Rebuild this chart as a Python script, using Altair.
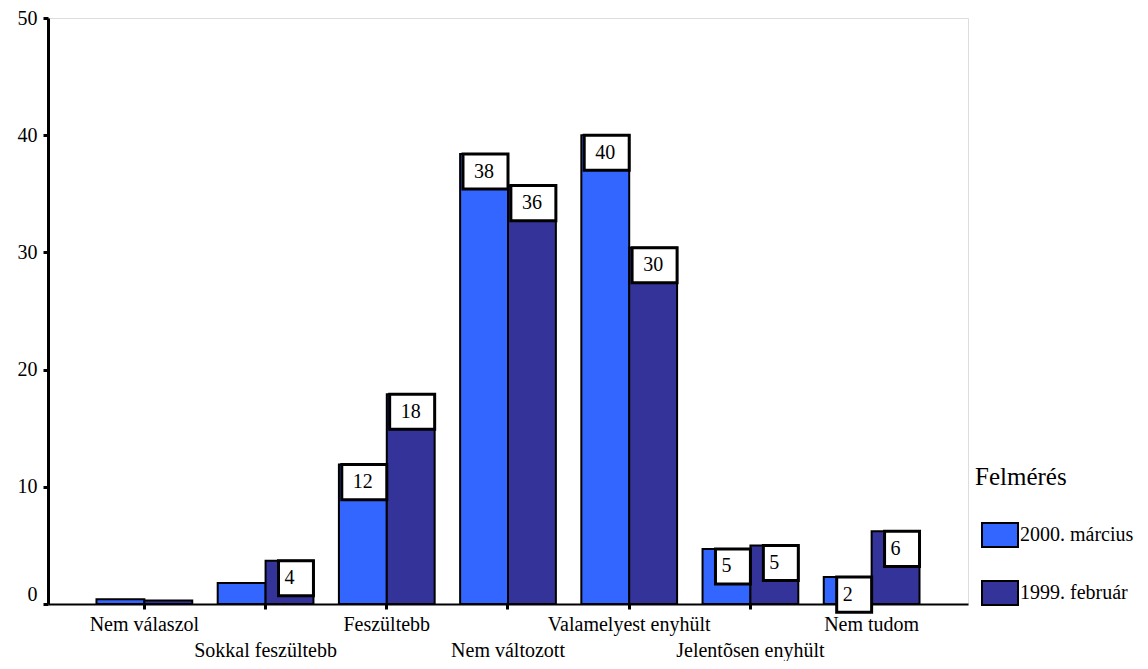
import json
import altair as alt
import pandas as pd

categories = ["Nem válaszol", "Sokkal feszültebb", "Feszültebb", "Nem változott",
              "Valamelyest enyhült", "Jelentõsen enyhült", "Nem tudom"]
series_names = ["2000. március", "1999. február"]
values_2000 = [0.4, 1.8, 11.9, 38.4, 40.0, 4.7, 2.3]
values_1999 = [0.3, 3.7, 17.9, 35.7, 30.4, 5.0, 6.2]
labels_2000 = ["", "", "12", "38", "40", "5", "2"]
labels_1999 = ["", "4", "18", "36", "30", "5", "6"]
colors = ["#3366ff", "#333399"]
y_ticks = [0, 10, 20, 30, 40, 50]

rows = []
for s, vals, labs in [(series_names[0], values_2000, labels_2000),
                      (series_names[1], values_1999, labels_1999)]:
    for c, v, l in zip(categories, vals, labs):
        rows.append({"cat": c, "series": s, "value": v, "label": l})
df = pd.DataFrame(rows)

FONT = "Liberation Serif"
lower = categories[1::2]
label_expr = ("indexof(" + json.dumps(lower, ensure_ascii=False) +
              ", datum.label) >= 0 ? ['', datum.label] : datum.label")

x = alt.X("cat:N", sort=categories,
          scale=alt.Scale(domain=categories, paddingInner=0.21, paddingOuter=0.4),
          axis=alt.Axis(title=None, labelAngle=0, labelExpr=label_expr, labelLineHeight=26,
                        labelFont=FONT, labelFontSize=20, labelColor="black", labelPadding=5,
                        labelOverlap=False, labelBaseline="top", tickSize=5, tickWidth=3,
                        tickColor="black", domainColor="black", domainWidth=2, grid=False))
xoff = alt.XOffset("series:N", scale=alt.Scale(domain=series_names))
y = alt.Y("value:Q", scale=alt.Scale(domain=[0, 50], nice=False),
          axis=alt.Axis(values=y_ticks, title=None, grid=False, labelFont=FONT, labelFontSize=20,
                        labelColor="black", labelPadding=6, tickSize=5, tickWidth=3,
                        tickColor="black", domainColor="black", domainWidth=3,
                        labelBaseline={"condition": {"test": "datum.value === 0", "value": "bottom"},
                                       "value": "middle"}))
color = alt.Color("series:N", scale=alt.Scale(domain=series_names, range=colors),
                  legend=alt.Legend(title="Felmérés", orient="none", legendX=927, legendY=447,
                                    titleFont=FONT, titleFontSize=25, titleFontWeight="normal",
                                    titleColor="black", labelFont=FONT, labelFontSize=20,
                                    labelColor="black", labelLimit=200,
                                    symbolType="M-1.5,-1L1.5,-1L1.5,1L-1.5,1Z", symbolSize=576,
                                    symbolStrokeColor="black", symbolStrokeWidth=2,
                                    symbolOpacity=1, rowPadding=26, titlePadding=32,
                                    symbolOffset=12, labelOffset=7))

base = alt.Chart(df)

bars = base.mark_bar(stroke="black", strokeWidth=2).encode(x=x, xOffset=xoff, y=y, color=color)

boxes2 = base.transform_filter("length(datum.label) == 2").transform_calculate(
    ybot="datum.value - 3").mark_bar(fill="white", stroke="black", strokeWidth=3,
                                     width=alt.RelativeBandSize(0.94)).encode(
    x=x, xOffset=xoff, y=y, y2="ybot:Q")

boxes1 = base.transform_filter("length(datum.label) == 1").transform_calculate(
    ybot="datum.value - 3").mark_bar(fill="white", stroke="black", strokeWidth=3,
                                     width=alt.RelativeBandSize(0.73)).encode(
    x=x, xOffset=xoff, y=y, y2="ybot:Q")

texts = base.transform_filter("datum.label != ''").transform_calculate(
    ymid="datum.value - 1.5").mark_text(font=FONT, fontSize=20, color="black",
                                         baseline="middle", align="center").encode(
    x=x, xOffset=xoff, y=alt.Y("ymid:Q"), text="label:N")

chart = alt.layer(bars, boxes2, boxes1, texts).properties(
    width=920, height=586, autosize="none",
    padding={"left": 40, "top": 10, "right": 172, "bottom": 57},
).configure_view(stroke="black", strokeWidth=2).configure(background="white", font=FONT)

chart.save("out.html", embed_options={"renderer": "svg", "actions": False})
